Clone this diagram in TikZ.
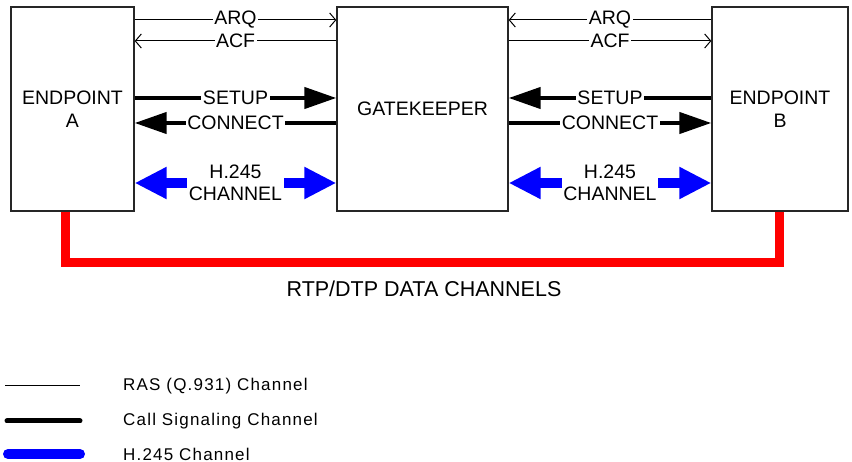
\documentclass[tikz,border=0pt]{standalone}
\usepackage{fontspec}
\setmainfont{Liberation Sans}
\newfontfamily\legendfont[LetterSpace=7]{Liberation Sans}
\usetikzlibrary{arrows.meta,calc}
\begin{document}
\begin{tikzpicture}[x=1pt,y=-1pt,
  unitbox/.style={draw=black!85,line width=1.3pt,fill=white,inner sep=0pt,
    minimum height=204pt,align=center,font=\fontsize{19.5}{23}\selectfont},
  ras/.style={line width=1pt,-{Straight Barb[length=6pt,width=14pt,line width=1pt]}},
  callsig/.style={line width=4.3pt,-{Triangle[length=32pt,width=21pt]}},
  hchan/.style={line width=10pt,color=blue,
    {Triangle[length=32pt,width=30pt]}-{Triangle[length=32pt,width=30pt]}},
  tag/.style={fill=white,inner sep=1.5pt,align=center,text=black,
    font=\fontsize{19.5}{22}\selectfont},
  datapath/.style={line width=9pt,color=red,line join=miter},
  legtext/.style={anchor=west,inner sep=0pt,font=\legendfont\fontsize{17}{20}\selectfont}]
\useasboundingbox (0,0) rectangle (852,462);

% units
\node[unitbox,minimum width=123pt] (A) at (72.5,109) {ENDPOINT\\A};
\node[unitbox,minimum width=171pt] (G) at (422.5,109) {GATEKEEPER};
\node[unitbox,minimum width=136pt] (B) at (780,109) {ENDPOINT\\B};

% message rows
\coordinate (rARQ) at (0,20);
\coordinate (rACF) at (0,41);
\coordinate (rSET) at (0,98);
\coordinate (rCON) at (0,123);
\coordinate (rH)   at (0,183);

% RAS messages
\draw[ras] (A.east |- rARQ) -- (G.west |- rARQ);
\draw[ras] (G.west |- rACF) -- (A.east |- rACF);
\draw[ras] (B.west |- rARQ) -- (G.east |- rARQ);
\draw[ras] (G.east |- rACF) -- (B.west |- rACF);
\node[tag] at ($(A.east |- rARQ)!0.5!(G.west |- rARQ)$) {ARQ};
\node[tag] at ($(A.east |- rACF)!0.5!(G.west |- rACF)$) {ACF};
\node[tag] at ($(G.east |- rARQ)!0.5!(B.west |- rARQ)$) {ARQ};
\node[tag] at ($(G.east |- rACF)!0.5!(B.west |- rACF)$) {ACF};

% call signalling
\draw[callsig] (A.east |- rSET) -- (G.west |- rSET);
\draw[callsig] (G.west |- rCON) -- (A.east |- rCON);
\draw[callsig] (B.west |- rSET) -- (G.east |- rSET);
\draw[callsig] (G.east |- rCON) -- (B.west |- rCON);
\node[tag] at ($(A.east |- rSET)!0.5!(G.west |- rSET)$) {SETUP};
\node[tag] at ($(A.east |- rCON)!0.5!(G.west |- rCON)$) {CONNECT};
\node[tag] at ($(G.east |- rSET)!0.5!(B.west |- rSET)$) {SETUP};
\node[tag] at ($(G.east |- rCON)!0.5!(B.west |- rCON)$) {CONNECT};

% H.245 channels
\draw[hchan] (A.east |- rH) -- (G.west |- rH);
\draw[hchan] (G.east |- rH) -- (B.west |- rH);
\node[tag] at ($(A.east |- rH)!0.5!(G.west |- rH)$) {H.245\\CHANNEL};
\node[tag] at ($(G.east |- rH)!0.5!(B.west |- rH)$) {H.245\\CHANNEL};

% media path
\coordinate (redL) at (65,263);
\coordinate (redR) at (779,263);
\draw[datapath] (A.south -| redL) -- (redL) -- (redR) -- (B.south -| redR);
\node[font=\fontsize{21.5}{24}\selectfont] (rtp) at (424,289) {RTP/DTP DATA CHANNELS};

% legend
\coordinate (l1a) at (5,386);   \coordinate (l1b) at (80,386);
\coordinate (l2a) at (7,421);   \coordinate (l2b) at (80,421);
\coordinate (l3a) at (8,454);   \coordinate (l3b) at (80,454);
\draw[line width=1pt] (l1a) -- (l1b);
\draw[line width=5pt,line cap=round] (l2a) -- (l2b);
\draw[line width=10pt,line cap=round,blue] (l3a) -- (l3b);
\node[legtext] (t1) at (123,386) {RAS (Q.931) Channel};
\node[legtext] (t2) at (123,421) {Call Signaling Channel};
\node[legtext] (t3) at (123,454) {H.245 Channel};
\end{tikzpicture}
\end{document}
